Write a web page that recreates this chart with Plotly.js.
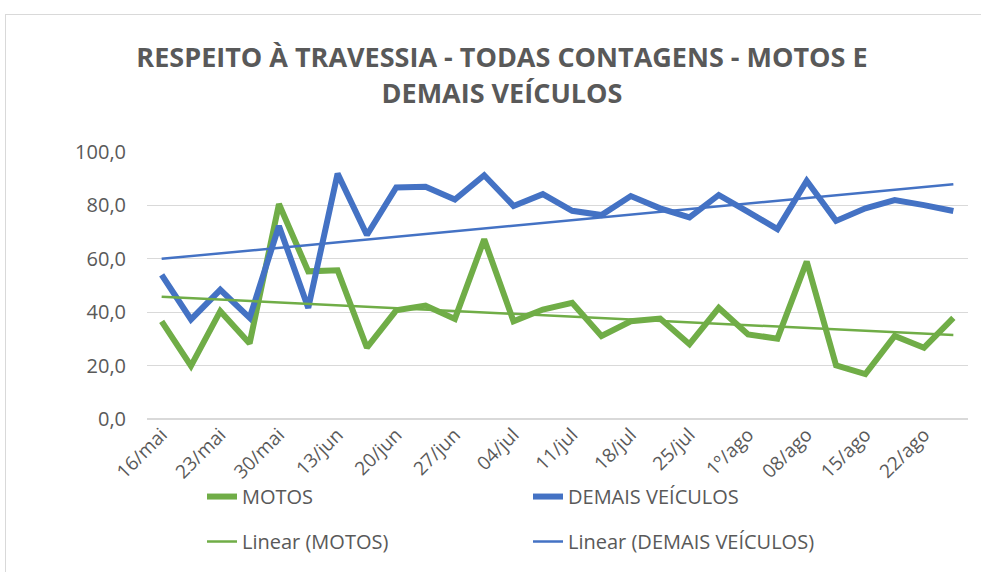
<!DOCTYPE html>
<html>
<head>
<meta charset="utf-8">
<script src="https://cdn.plot.ly/plotly-3.0.1.min.js"></script>
<style>
html,body{margin:0;padding:0;background:#fff;}
#wrap{position:relative;width:981px;height:572px;overflow:hidden;}
#chart{width:981px;height:572px;}
#frame{position:absolute;left:5px;top:14px;width:1000px;height:600px;border:1.5px solid #D9D9D9;pointer-events:none;}
</style>
</head>
<body>
<div id="wrap"><div id="chart"></div><div id="frame"></div></div>
<script>
// Tick labels shown every other category (two counts per week)
const tickLabels = ["16/mai","23/mai","30/mai","13/jun","20/jun","27/jun","04/jul","11/jul","18/jul","25/jul","1º/ago","08/ago","15/ago","22/ago"];
const motos = [36.6,19.9,40.4,28.3,80.5,55.3,55.7,26.7,40.7,42.5,37.5,67.3,36.6,41.0,43.5,31.1,36.6,37.6,28.0,41.6,31.7,30.1,59.0,20.1,16.8,31.1,26.7,37.9];
const demais = [54.0,37.3,48.4,37.9,72.3,41.6,91.9,68.9,86.7,87.0,82.2,91.3,79.8,84.2,78.0,76.4,83.5,78.9,75.5,83.9,77.6,71.1,89.2,74.2,78.9,82.0,80.1,77.9];

const idx = motos.map((_, i) => i);
const tickVals = tickLabels.map((_, i) => i * 2);

function linfit(y) {
  const n = y.length;
  let sx = 0, sy = 0, sxx = 0, sxy = 0;
  for (let i = 0; i < n; i++) { sx += i; sy += y[i]; sxx += i * i; sxy += i * y[i]; }
  const b = (n * sxy - sx * sy) / (n * sxx - sx * sx);
  const a = (sy - b * sx) / n;
  return y.map((_, i) => a + b * i);
}

const green = '#70AD47', blue = '#4472C4';
const font = "'Open Sans', sans-serif";

const traces = [
  {x: idx, y: motos, type: 'scatter', mode: 'lines', name: 'MOTOS', line: {color: green, width: 6}, legend: 'legend'},
  {x: idx, y: demais, type: 'scatter', mode: 'lines', name: 'DEMAIS VEÍCULOS', line: {color: blue, width: 6}, legend: 'legend'},
  {x: idx, y: linfit(motos), type: 'scatter', mode: 'lines', name: 'Linear (MOTOS)', line: {color: green, width: 2.5}, legend: 'legend2'},
  {x: idx, y: linfit(demais), type: 'scatter', mode: 'lines', name: 'Linear (DEMAIS VEÍCULOS)', line: {color: blue, width: 2.5}, legend: 'legend2'}
];

const legendBase = {
  orientation: 'h', x: 0.067, xanchor: 'left', yanchor: 'top', yref: 'container',
  entrywidth: 281, entrywidthmode: 'pixels', traceorder: 'normal',
  font: {family: font, size: 20, color: '#595959'}, bgcolor: 'rgba(0,0,0,0)'
};

const layout = {
  width: 981, height: 572,
  margin: {l: 147, r: 13, t: 152, b: 153},
  paper_bgcolor: '#fff', plot_bgcolor: '#fff',
  separators: ',.',
  font: {family: font, color: '#595959', size: 20},
  title: {
    text: '<b>RESPEITO À TRAVESSIA - TODAS CONTAGENS - MOTOS E<br>DEMAIS VEÍCULOS</b>',
    font: {family: font, size: 27, color: '#595959'},
    x: 0.5117, xref: 'container', xanchor: 'center', y: 0.882, yanchor: 'middle', yref: 'container',
    automargin: false
  },
  xaxis: {
    range: [-0.5, 27.5], tickvals: tickVals, ticktext: tickLabels, automargin: false,
    tickangle: -45, showgrid: false, zeroline: false,
    showline: false, ticks: '', tickfont: {family: font, size: 19, color: '#595959'}
  },
  yaxis: {
    range: [0, 100], dtick: 20, tickformat: '.1f', automargin: false,
    gridcolor: '#D9D9D9', gridwidth: 1.3, zeroline: true, zerolinecolor: '#D9D9D9', zerolinewidth: 1.5,
    showline: false, ticks: '', ticklabelstandoff: 20,
    tickfont: {family: font, size: 20, color: '#595959'}
  },
  showlegend: true,
  legend: Object.assign({}, legendBase, {y: 0.166}),
  legend2: Object.assign({}, legendBase, {y: 0.0874})
};

Plotly.newPlot('chart', traces, layout, {displayModeBar: false, staticPlot: true});
</script>
</body>
</html>
